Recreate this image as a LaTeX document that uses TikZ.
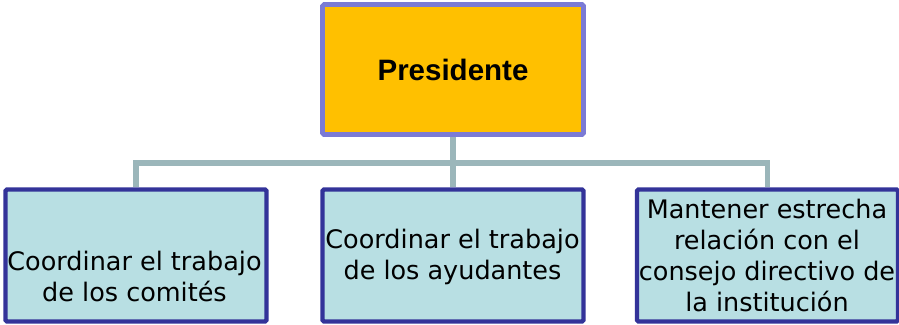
\documentclass[tikz,border=0pt]{standalone}
\usepackage{fontspec}
\setmainfont{DejaVu Sans}
\newfontfamily\headfont{Liberation Sans}
\usetikzlibrary{backgrounds}
\definecolor{topfill}{HTML}{FFC000}
\definecolor{topline}{HTML}{7B7BD5}
\definecolor{subfill}{HTML}{B8DFE3}
\definecolor{subline}{HTML}{333399}
\definecolor{connline}{HTML}{9BB6BA}
\tikzset{
  topbox/.style={draw=topline, fill=topfill, line width=4.6pt, rounded corners=1.5pt,
    minimum width=261pt, minimum height=130pt, inner sep=0pt,
    font={\headfont\bfseries\fontsize{29.5pt}{34pt}\selectfont}},
  subbox/.style={draw=subline, fill=subfill, line width=4.3pt, rounded corners=1.5pt,
    minimum width=261pt, minimum height=132pt, inner sep=0pt},
  subtext/.style={align=center, anchor=base, inner sep=0pt,
    font={\fontsize{25.5pt}{31pt}\selectfont}},
  conn/.style={draw=connline, line width=5.6pt}
}
\begin{document}
\begin{tikzpicture}[x=1pt,y=-1pt]
\useasboundingbox (0,0) rectangle (899,324);
\node[topbox] (pres) at (453,69.5) {Presidente};
\node[subbox] (left) at (136,255.5) {};
\node[subbox] (mid) at (453,255.5) {};
\node[subbox] (right) at (767.5,255.5) {};
\coordinate (bus) at (453,163);
\begin{pgfonlayer}{background}
\draw[conn] (pres.south) -- (mid.north);
\draw[conn] (left.north) |- (bus) -| (right.north);
\end{pgfonlayer}
\node[subtext] (ltext) at (134.5,301.7) {Coordinar el trabajo\\de los comités};
\node[subtext] (mtext) at (452.5,279.3) {Coordinar el trabajo\\de los ayudantes};
\node[subtext] (rtext) at (767,311.7) {Mantener estrecha\\relación con el\\consejo directivo de\\la institución};
\end{tikzpicture}
\end{document}
